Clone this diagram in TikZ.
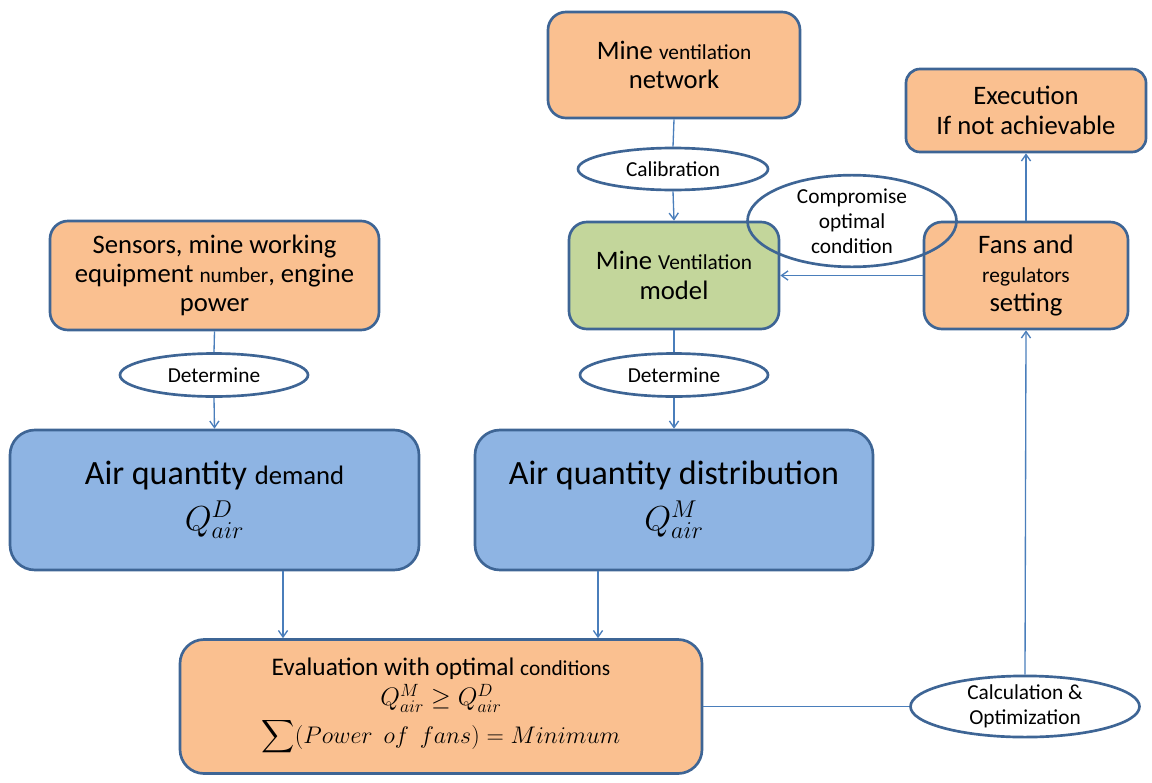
\RequirePackage{fix-cm}
\documentclass[tikz,border=0pt]{standalone}
\usepackage{exscale}
\usepackage{fontspec}
\setmainfont{Carlito}
\usetikzlibrary{shapes.geometric,arrows.meta}
\definecolor{orfill}{HTML}{FAC090}
\definecolor{grfill}{HTML}{C3D69B}
\definecolor{blfill}{HTML}{8EB4E3}
\definecolor{bord}{HTML}{3E6595}
\definecolor{conn}{HTML}{4A7EBB}
\newcommand{\fs}[2]{\fontsize{#1}{#2}\selectfont}
\tikzset{
  box/.style={draw=bord, line width=2pt, align=center, inner sep=0pt, font=\fs{20}{22}},
  ell/.style={ellipse, draw=bord, line width=2pt, align=center, inner sep=0pt, font=\fs{16}{18.75}},
  line/.style={draw=conn, line width=1pt},
  arr/.style={line, -{Straight Barb[angle=70:6pt]}},
}
\begin{document}
\begin{tikzpicture}[x=0.75pt,y=-0.75pt]
\useasboundingbox (0,0) rectangle (1152,782);
% boxes
\node[box, fill=orfill, rounded corners=13.5pt, minimum width=189pt, minimum height=79.5pt] (net) at (674,65) {Mine {\fs{16}{22}ventilation}\\network};
\node[box, fill=grfill, rounded corners=13.5pt, minimum width=157.5pt, minimum height=80.25pt] (model) at (674,275.5) {Mine {\fs{16}{22}Ventilation}\\model};
\node[box, fill=orfill, rounded corners=10.5pt, minimum width=180pt, minimum height=62.25pt] (exec) at (1026,110.5) {Execution\\If not achievable};
\node[box, fill=orfill, rounded corners=13.5pt, minimum width=153pt, minimum height=80.25pt] (fans) at (1026,275.5) {Fans and\\{\fs{16}{22}regulators}\\setting};
\node[box, fill=orfill, rounded corners=13.5pt, minimum width=246.75pt, minimum height=81.75pt] (sens) at (214.5,275.5) {Sensors, mine working\\equipment {\fs{16}{22}number}, engine\\power};
\node[box, fill=blfill, rounded corners=18.75pt, minimum width=306.75pt, minimum height=105pt, font=\fs{25.5}{32}] (demand) at (214.5,500) {Air quantity {\fs{20}{32}demand}\\[2pt]{\fs{26}{32}$Q^{D}_{air}$}};
\node[box, fill=blfill, rounded corners=18.75pt, minimum width=298.5pt, minimum height=105pt, font=\fs{25.5}{32}] (dist) at (674,500) {Air quantity distribution\\[2pt]{\fs{26}{32}$Q^{M}_{air}$}};
\node[box, fill=orfill, rounded corners=18pt, minimum width=391.5pt, minimum height=100.5pt, font=\fs{19}{24}] (eval) at (441,706.5) {Evaluation with optimal {\fs{16}{24}conditions}\\[-1pt]{\fs{19}{24}$Q^{M}_{air}\geq Q^{D}_{air}$}\\[4pt]{\fs{18}{24}$\displaystyle\sum (Power\ \ of\ \ fans) = Minimum$}};
% ellipses
\node[ell, fill=white, minimum width=142.5pt, minimum height=31.5pt] (cal) at (673,169) {Calibration};
\node[ell, fill=white, minimum width=141pt, minimum height=32.25pt] (detL) at (214,375) {Determine};
\node[ell, fill=white, minimum width=141pt, minimum height=32.25pt] (detR) at (674,375) {Determine};
\node[ell, fill=white, minimum width=171.75pt, minimum height=41.25pt] (calc) at (1025,706.5) {Calculation \&\\Optimization};
\node[ell, minimum width=156.75pt, minimum height=59.25pt] (comp) at (852,221) {Compromise\\optimal\\condition};
% connectors
\draw[line] (net.south) -- (cal.north);
\draw[arr] (cal.south) -- (model.north);
\draw[line] (sens.south) -- (detL.north);
\draw[arr] (detL.south) -- (demand.north);
\draw[line] (model.south) -- (detR.north);
\draw[arr] (detR.south) -- (dist.north);
\path (demand.south) ++(68.5,0) coordinate (dA);
\draw[arr] (dA) -- (dA |- eval.north);
\path (dist.south) ++(-76,0) coordinate (dB);
\draw[arr] (dB) -- (dB |- eval.north);
\draw[line] (eval.east) -- (calc.west);
\draw[arr] (calc.north) -- (fans.south);
\draw[arr] (fans.north) -- (exec.south);
\draw[arr] (fans.west) -- (model.east);
\end{tikzpicture}
\end{document}
